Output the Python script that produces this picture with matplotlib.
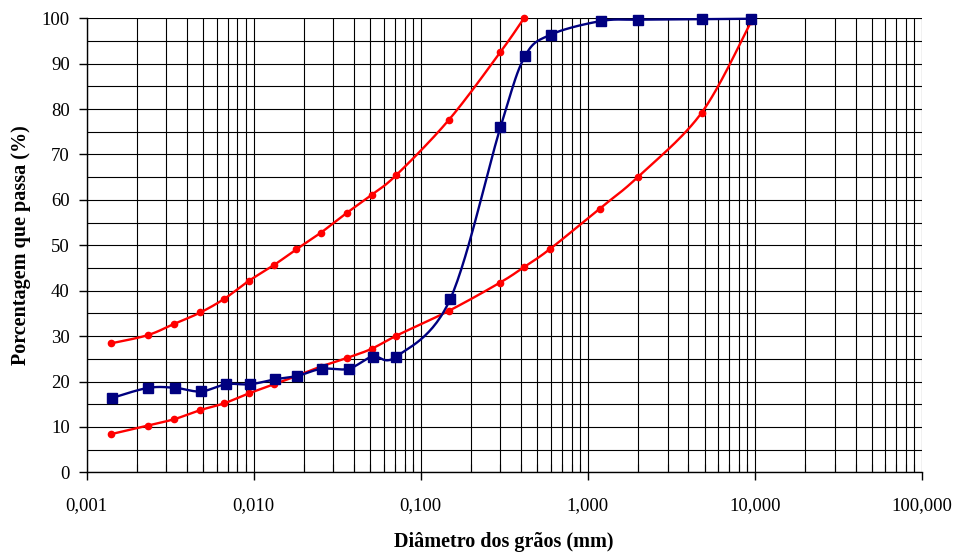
import numpy as np
import matplotlib
matplotlib.use("Agg")
import matplotlib.pyplot as plt
from matplotlib.ticker import FixedLocator, FuncFormatter, LogLocator, NullFormatter

plt.rcParams['font.family'] = ['Liberation Serif', 'DejaVu Serif']

# Data (diameter in mm, percent passing)
blue_d = [0.00143, 0.00234, 0.0034, 0.00484, 0.00683, 0.00955, 0.0135, 0.0182,
          0.0255, 0.037, 0.0515, 0.0716, 0.15, 0.30, 0.42, 0.60, 1.2, 2.0, 4.8, 9.5]
blue_p = [16.4, 18.6, 18.6, 17.8, 19.4, 19.4, 20.5, 21.2,
          22.8, 22.8, 25.5, 25.5, 38.1, 76.0, 91.6, 96.4, 99.4, 99.7, 99.8, 99.9]

upper_d = [0.0014, 0.00232, 0.00335, 0.0048, 0.00667, 0.0094, 0.0133, 0.018,
           0.0253, 0.0363, 0.0508, 0.0716, 0.148, 0.299, 0.415]
upper_p = [28.4, 30.2, 32.7, 35.2, 38.2, 42.2, 45.7, 49.1,
           52.8, 57.2, 61.1, 65.5, 77.7, 92.5, 100.0]

lower_d = [0.0014, 0.00232, 0.00335, 0.0048, 0.00667, 0.0094, 0.0133, 0.018,
           0.0253, 0.0363, 0.0508, 0.0716, 0.148, 0.299, 0.415, 0.59, 1.18,
           2.0, 4.8, 9.5]
lower_p = [8.4, 10.3, 11.7, 13.7, 15.2, 17.4, 19.4, 21.2,
           23.3, 25.2, 27.2, 30.1, 35.6, 41.8, 45.2, 49.1, 58.1,
           65.1, 79.2, 99.3]

x_ticks = [0.001, 0.01, 0.1, 1, 10, 100]
x_tick_labels = ['0,001', '0,010', '0,100', '1,000', '10,000', '100,000']
y_ticks = list(range(0, 101, 10))

W, H = 957, 552
fig = plt.figure(figsize=(W / 100, H / 100), dpi=100)
ax = fig.add_axes([86.5 / W, 1 - 472.3 / H, (922 - 86.5) / W, (472.3 - 18.3) / H])

# Smooth curve (Excel-like Bezier) drawn in screen-proportional space
SX, SY = 167.2, 4.54


def smooth(xs, ys, n=30):
    u = np.log10(np.asarray(xs, float)) * SX
    v = np.asarray(ys, float) * SY
    P = np.column_stack([u, v])
    out = []
    for i in range(len(P) - 1):
        p0 = P[i - 1] if i > 0 else P[i]
        p1 = P[i]
        p2 = P[i + 1]
        p3 = P[i + 2] if i + 2 < len(P) else P[i + 1]
        c1 = p1 + (p2 - p0) / 6.0
        c2 = p2 - (p3 - p1) / 6.0
        t = np.linspace(0, 1, n)[:, None]
        seg = ((1 - t) ** 3) * p1 + 3 * ((1 - t) ** 2) * t * c1 + 3 * (1 - t) * t ** 2 * c2 + t ** 3 * p2
        out.append(seg if i == 0 else seg[1:])
    Q = np.vstack(out)
    return 10 ** (Q[:, 0] / SX), Q[:, 1] / SY


ax.set_xscale('log')
ax.set_xlim(0.001, 100)
ax.set_ylim(0, 100)

# grid
ax.xaxis.set_minor_locator(LogLocator(base=10, subs=np.arange(2, 10)))
ax.xaxis.set_minor_formatter(NullFormatter())
ax.yaxis.set_minor_locator(FixedLocator(list(range(5, 100, 10))))
ax.grid(True, which='both', color='black', linewidth=0.8)
ax.set_axisbelow(True)

for xs, ys, col, mk, ms in [(lower_d, lower_p, '#FF0000', 'o', 4.5),
                             (upper_d, upper_p, '#FF0000', 'o', 4.5),
                             (blue_d, blue_p, '#000080', 's', 7)]:
    sx, sy = smooth(xs, ys)
    ax.plot(sx, sy, color=col, linewidth=1.7, zorder=3, clip_on=False)
    ax.plot(xs, ys, linestyle='none', marker=mk, markersize=ms, color=col,
            markeredgecolor=col, zorder=4, clip_on=False)

ax.xaxis.set_major_locator(FixedLocator(x_ticks))
ax.xaxis.set_major_formatter(FuncFormatter(lambda v, p: x_tick_labels[x_ticks.index(v)] if v in x_ticks else ''))
ax.set_yticks(y_ticks)

for s in ['top', 'right']:
    ax.spines[s].set_visible(False)
ax.spines['left'].set_linewidth(1.0)
ax.spines['bottom'].set_linewidth(1.0)

ax.tick_params(axis='x', which='major', direction='out', length=6, width=1,
               labelsize=13.5, pad=12, colors='black')
ax.tick_params(axis='x', which='minor', direction='in', length=6, width=0.8)
ax.tick_params(axis='y', which='major', direction='out', length=6, width=1,
               labelsize=13.5, pad=6)
ax.tick_params(axis='y', which='minor', length=0)

ax.set_xlabel('Diâmetro dos grãos (mm)', fontsize=14.5, fontweight='bold', labelpad=13)
ax.set_ylabel('Porcentagem que passa (%)', fontsize=14.5, fontweight='bold', labelpad=8)

fig.savefig('out.png', dpi=100)
